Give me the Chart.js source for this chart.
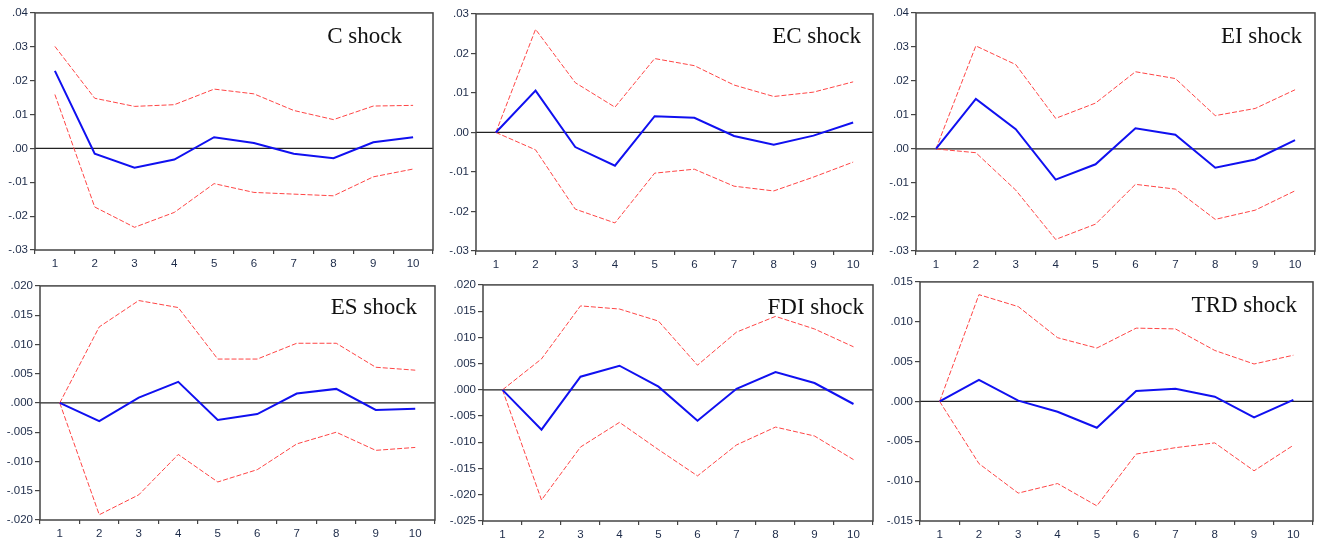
<!DOCTYPE html>
<html>
<head>
<meta charset="utf-8">
<script src="https://cdn.jsdelivr.net/npm/chart.js@4/dist/chart.umd.min.js"></script>
<style>
    html, body { margin: 0; padding: 0; background: #fff; overflow: hidden; }
    body { position: relative; width: 1319px; height: 543px; }
    .panel { position: absolute; }
</style>
</head>
<body>
<script>
// periods on the x axis
const PERIODS = ["1", "2", "3", "4", "5", "6", "7", "8", "9", "10"];

// panel titles
const TITLES = ["C shock", "EC shock", "EI shock", "ES shock", "FDI shock", "TRD shock"];

// y axis ranges [max, min, step, decimals]
const Y_RANGES = [
    [0.04, -0.03, 0.01, 2],
    [0.03, -0.03, 0.01, 2],
    [0.04, -0.03, 0.01, 2],
    [0.020, -0.020, 0.005, 3],
    [0.020, -0.025, 0.005, 3],
    [0.015, -0.015, 0.005, 3],
];

// impulse responses
const C_RESP   = [0.0229, -0.0016, -0.0057, -0.0033, 0.0033, 0.0016, -0.0016, -0.0029, 0.0018, 0.0033];
const C_UPPER  = [0.0301, 0.0148, 0.0124, 0.0129, 0.0175, 0.0161, 0.0112, 0.0085, 0.0125, 0.0127];
const C_LOWER  = [0.0159, -0.0173, -0.0233, -0.0189, -0.0104, -0.0130, -0.0135, -0.0140, -0.0084, -0.0061];

const EC_RESP  = [0, 0.0106, -0.0037, -0.0084, 0.0041, 0.0037, -0.0009, -0.0031, -0.0008, 0.0025];
const EC_UPPER = [0, 0.0261, 0.0126, 0.0064, 0.0187, 0.0169, 0.0120, 0.0091, 0.0102, 0.0128];
const EC_LOWER = [0, -0.0044, -0.0194, -0.0229, -0.0103, -0.0093, -0.0136, -0.0148, -0.0113, -0.0075];

const EI_RESP  = [0, 0.0147, 0.0058, -0.0090, -0.0045, 0.0061, 0.0042, -0.0055, -0.0031, 0.0026];
const EI_UPPER = [0, 0.0303, 0.0248, 0.0090, 0.0135, 0.0227, 0.0207, 0.0098, 0.0119, 0.0174];
const EI_LOWER = [0, -0.0011, -0.0121, -0.0266, -0.0221, -0.0104, -0.0118, -0.0207, -0.0180, -0.0123];

const ES_RESP  = [0, -0.0031, 0.0009, 0.0036, -0.0029, -0.0019, 0.0016, 0.0024, -0.0012, -0.0010];
const ES_UPPER = [0, 0.0130, 0.0175, 0.0163, 0.0075, 0.0075, 0.0102, 0.0102, 0.0061, 0.0056];
const ES_LOWER = [0, -0.0191, -0.0157, -0.0088, -0.0135, -0.0114, -0.0070, -0.0050, -0.0081, -0.0076];

const FDI_RESP  = [0, -0.0076, 0.0025, 0.0046, 0.0006, -0.0059, 0.0002, 0.0034, 0.0013, -0.0027];
const FDI_UPPER = [0, 0.0059, 0.0160, 0.0154, 0.0131, 0.0047, 0.0110, 0.0140, 0.0116, 0.0082];
const FDI_LOWER = [0, -0.0210, -0.0109, -0.0062, -0.0114, -0.0164, -0.0105, -0.0071, -0.0088, -0.0133];

const TRD_RESP  = [0, 0.0027, 0.0001, -0.0013, -0.0033, 0.0013, 0.0016, 0.0006, -0.0020, 0.0002];
const TRD_UPPER = [0, 0.0134, 0.0119, 0.0080, 0.0067, 0.0092, 0.0091, 0.0064, 0.0047, 0.0058];
const TRD_LOWER = [0, -0.0078, -0.0115, -0.0103, -0.0131, -0.0066, -0.0058, -0.0052, -0.0087, -0.0055];

const SERIES = [
    [C_RESP, C_UPPER, C_LOWER],
    [EC_RESP, EC_UPPER, EC_LOWER],
    [EI_RESP, EI_UPPER, EI_LOWER],
    [ES_RESP, ES_UPPER, ES_LOWER],
    [FDI_RESP, FDI_UPPER, FDI_LOWER],
    [TRD_RESP, TRD_UPPER, TRD_LOWER],
];

// plot boxes in page pixels: left, top, right, bottom, title gap from right, title baseline from top
const BOXES = [
    [35, 12, 433, 250, 31, 30],
    [476, 13, 873, 251, 12, 29],
    [916, 12, 1315, 251, 13, 30],
    [40, 285, 435, 520, 18, 28],
    [483, 284, 873, 521, 9, 29],
    [920, 281, 1313, 521, 16, 30],
];

const Y_AXIS_W = 40;
const X_AXIS_H = 24;
const PAD_TOP = 8;
const PAD_RIGHT = 4;
const AXIS_COLOR = "#444";
const LABEL_COLOR = "#1c2a48";
const TICK_FONT = {family: "'Liberation Sans', Arial, sans-serif", size: 11.5};

function fmtTick(value, decimals) {
    let s = Math.abs(value) < 1e-9 ? (0).toFixed(decimals) : value.toFixed(decimals);
    return s.replace(/^(-?)0\./, "$1.");
}

// frame, zero line and panel title
const panelDecor = {
    id: "panelDecor",
    beforeDatasetsDraw(chart, args, opts) {
        const ctx = chart.ctx;
        const area = chart.chartArea;
        const y0 = chart.scales.y.getPixelForValue(0);
        ctx.save();
        ctx.strokeStyle = "#222";
        ctx.lineWidth = 1.2;
        ctx.beginPath();
        ctx.moveTo(area.left, y0);
        ctx.lineTo(area.right, y0);
        ctx.stroke();
        ctx.restore();
    },
    afterDraw(chart, args, opts) {
        const ctx = chart.ctx;
        const area = chart.chartArea;
        ctx.save();
        ctx.strokeStyle = AXIS_COLOR;
        ctx.lineWidth = 1.5;
        ctx.strokeRect(area.left, area.top, area.right - area.left, area.bottom - area.top);
        ctx.fillStyle = "#111";
        ctx.font = "23px 'Liberation Serif', 'Times New Roman', serif";
        ctx.textAlign = "right";
        ctx.textBaseline = "alphabetic";
        ctx.fillText(opts.title, area.right - opts.gap, area.top + opts.baseline);
        ctx.restore();
    }
};

function makeChart(i) {
    const box = BOXES[i];
    const range = Y_RANGES[i];
    const series = SERIES[i];

    const div = document.createElement("div");
    div.className = "panel";
    const w = (box[2] - box[0]) + Y_AXIS_W + PAD_RIGHT;
    const h = (box[3] - box[1]) + PAD_TOP + X_AXIS_H;
    div.style.left = (box[0] - Y_AXIS_W) + "px";
    div.style.top = (box[1] - PAD_TOP) + "px";
    div.style.width = w + "px";
    div.style.height = h + "px";
    const canvas = document.createElement("canvas");
    div.appendChild(canvas);
    document.body.appendChild(div);

    new Chart(canvas, {
        type: "line",
        data: {
            labels: PERIODS,
            datasets: [
                {
                    data: series[0],
                    borderColor: "#1010f0",
                    borderWidth: 2,
                    pointRadius: 0,
                    tension: 0,
                    order: 0,
                },
                {
                    data: series[1],
                    borderColor: "#ff4545",
                    borderWidth: 1,
                    borderDash: [5, 2],
                    pointRadius: 0,
                    tension: 0,
                    order: 1,
                },
                {
                    data: series[2],
                    borderColor: "#ff4545",
                    borderWidth: 1,
                    borderDash: [5, 2],
                    pointRadius: 0,
                    tension: 0,
                    order: 1,
                },
            ]
        },
        options: {
            animation: false,
            responsive: true,
            maintainAspectRatio: false,
            layout: {
                padding: {top: PAD_TOP, right: PAD_RIGHT, left: 0, bottom: 0}
            },
            scales: {
                x: {
                    type: "category",
                    offset: true,
                    afterFit: function (scale) { scale.height = X_AXIS_H; },
                    grid: {
                        offset: true,
                        drawOnChartArea: false,
                        drawTicks: true,
                        tickLength: 4,
                        color: AXIS_COLOR,
                        lineWidth: 1.2,
                    },
                    border: {display: false},
                    ticks: {
                        color: LABEL_COLOR,
                        padding: 3,
                        maxRotation: 0,
                        autoSkip: false,
                        font: TICK_FONT,
                    },
                },
                y: {
                    min: range[1],
                    max: range[0],
                    afterFit: function (scale) { scale.width = Y_AXIS_W; },
                    grid: {
                        drawOnChartArea: false,
                        drawTicks: true,
                        tickLength: 5,
                        color: AXIS_COLOR,
                        lineWidth: 1.2,
                    },
                    border: {display: false},
                    ticks: {
                        stepSize: range[2],
                        color: LABEL_COLOR,
                        padding: 2,
                        font: TICK_FONT,
                        callback: function (value) { return fmtTick(value, range[3]); }
                    },
                },
            },
            plugins: {
                legend: {display: false},
                tooltip: {enabled: false},
                title: {display: false},
                panelDecor: {title: TITLES[i], gap: box[4], baseline: box[5]},
            }
        },
        plugins: [panelDecor]
    });
}

for (let i = 0; i < TITLES.length; i++) {
    makeChart(i);
}
</script>
</body>
</html>
